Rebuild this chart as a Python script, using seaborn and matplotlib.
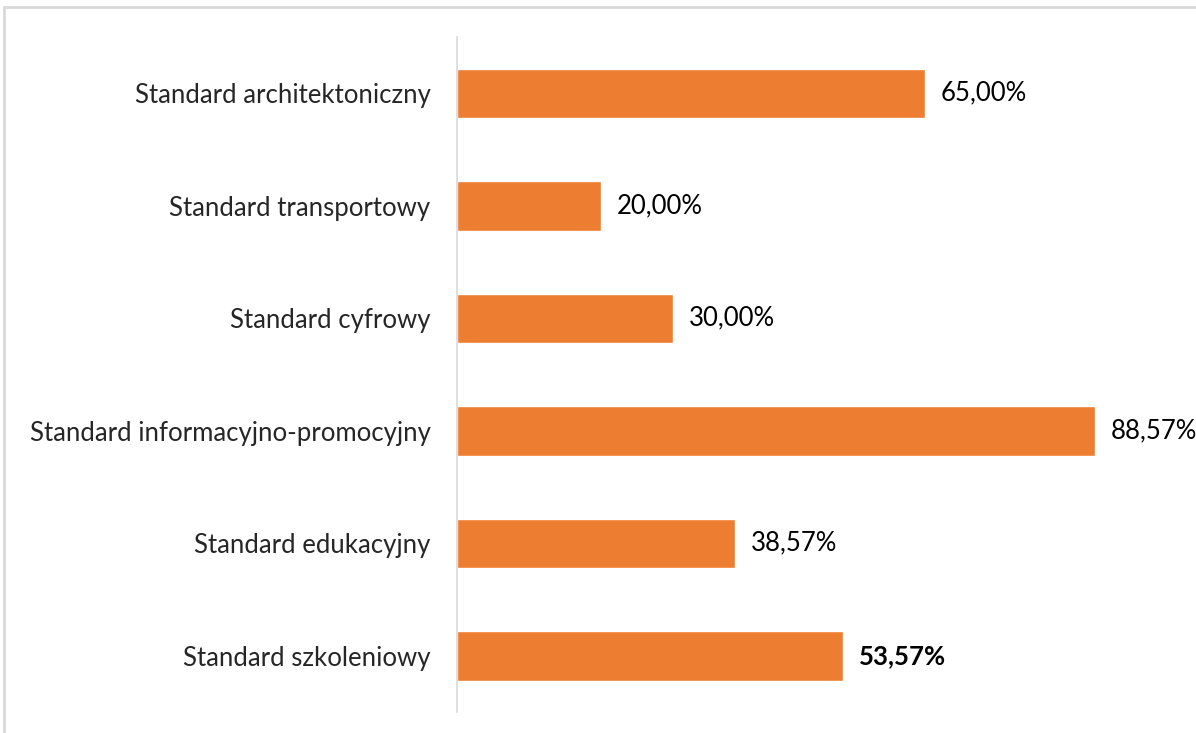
import matplotlib
matplotlib.use("Agg")
import matplotlib.pyplot as plt
import seaborn as sns
import pandas as pd
from matplotlib.patches import Rectangle

# data
categories = ["Standard architektoniczny", "Standard transportowy", "Standard cyfrowy",
              "Standard informacyjno-promocyjny", "Standard edukacyjny", "Standard szkoleniowy"]
values = [65.00, 20.00, 30.00, 88.57, 38.57, 53.57]
labels = ["65,00%", "20,00%", "30,00%", "88,57%", "38,57%", "53,57%"]
bold = [False, False, False, False, False, True]

df = pd.DataFrame({"cat": categories, "val": values})

sns.set_style("white")
plt.rcParams["font.family"] = ["Lato", "DejaVu Sans"]

fig = plt.figure(figsize=(11.96, 7.33), dpi=100)
ax = fig.add_axes([0.3821, 0.0286, 0.602, 0.9209])

sns.barplot(data=df, x="val", y="cat", color="#ED7D31", width=0.44, saturation=1, ax=ax)

ax.set_xlim(0, 100)
ax.set_ylim(5.5, -0.5)
ax.set_xlabel("")
ax.set_ylabel("")
ax.set_xticks([])
for s in ["top", "right", "bottom"]:
    ax.spines[s].set_visible(False)
ax.spines["left"].set_color("#D9D9D9")
ax.spines["left"].set_linewidth(1.2)
ax.tick_params(axis="y", length=0, pad=19, labelsize=18.5)

for i, (v, lab, b) in enumerate(zip(values, labels, bold)):
    ax.text(v + 2.2, i, lab, va="center", ha="left", fontsize=18.5,
            fontweight="bold" if b else "normal", color="#000000")

# outer chart frame
fig.patches.append(Rectangle((4 / 1196, -0.05), 1.1, 1 - 7 / 733 + 0.05, transform=fig.transFigure,
                             fill=False, edgecolor="#D9D9D9", linewidth=2))

fig.savefig("out.png", dpi=100, facecolor="white")
